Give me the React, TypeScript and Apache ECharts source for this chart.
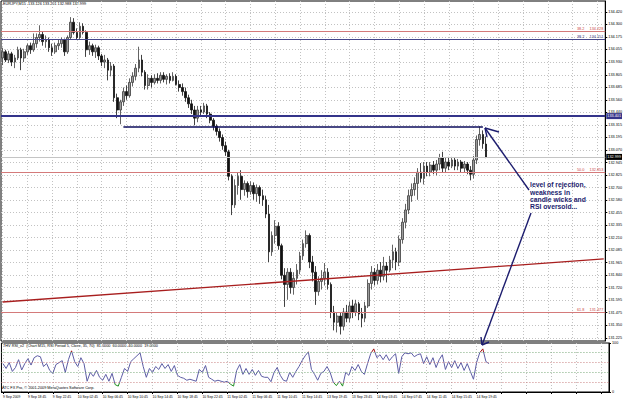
import React, { useEffect, useRef } from "react";
import * as echarts from "echarts";

// ---------- DATA ----------
const timeLabels = [
  "9 Sep 2009", "9 Sep 18:45", "9 Sep 22:45", "10 Sep 02:45", "10 Sep 06:45",
  "10 Sep 10:45", "10 Sep 14:45", "10 Sep 18:45", "10 Sep 22:45", "11 Sep 02:45",
  "11 Sep 06:45", "11 Sep 10:45", "11 Sep 14:45", "13 Sep 19:45", "13 Sep 23:45",
  "14 Sep 03:45", "14 Sep 07:45", "14 Sep 11:45", "14 Sep 15:45", "14 Sep 19:45",
];

const priceTicks = [
  134.42, 134.3, 134.175, 134.055, 133.93, 133.805, 133.685, 133.56, 133.44,
  133.315, 133.195, 133.07, 132.945, 132.825, 132.7, 132.58, 132.455, 132.335,
  132.21, 132.085, 131.965, 131.84, 131.72, 131.595, 131.475, 131.35, 131.225,
];

const openP = [
  133.97, 134.03, 133.95, 134.01, 133.93, 133.97, 134.05, 133.97, 134.03, 134.09,
  134.05, 134.11, 134.17, 134.2, 134.13, 134.15, 134.07, 134.03, 134.09, 134.11,
  134.15, 134.03, 134.17, 134.32, 134.22, 134.17, 134.28, 134.22, 134.05, 134.09,
  134.03, 134.07, 133.99, 133.93, 133.95, 133.85, 133.89, 133.58, 133.46, 133.54,
  133.64, 133.6, 133.73, 133.79, 133.87, 133.95, 133.83, 133.7, 133.77, 133.73,
  133.77, 133.75, 133.8, 133.76, 133.79, 133.75, 133.79, 133.71, 133.68, 133.64,
  133.58, 133.52, 133.46, 133.38, 133.46, 133.44, 133.5, 133.42, 133.36, 133.3,
  133.25, 133.19, 133.11, 133.05, 132.81, 132.53, 132.72, 132.81, 132.68, 132.74,
  132.66, 132.72, 132.64, 132.7, 132.62, 132.58, 132.44, 132.07, 132.23, 132.32,
  132.13, 131.84, 131.75, 131.87, 131.72, 131.81, 131.89, 132.03, 132.15, 132.23,
  131.97, 131.87, 131.68, 131.78, 131.81, 131.87, 131.75, 131.48, 131.38, 131.44,
  131.34, 131.48, 131.42, 131.54, 131.48, 131.56, 131.46, 131.42, 131.54, 131.76,
  131.87, 131.79, 131.89, 131.83, 131.93, 131.89, 131.99, 132.07, 131.97, 132.19,
  132.36, 132.48, 132.62, 132.68, 132.74, 132.85, 132.79, 132.91, 132.85, 132.92,
  132.87, 132.93, 132.99, 132.89, 132.95, 132.91, 132.97, 132.91, 132.95, 132.89,
  132.93, 132.87, 132.83, 132.97, 133.17, 133.22, 133.126,
];

const closeP = [
  134.03, 133.95, 134.01, 133.93, 133.97, 134.05, 133.97, 134.03, 134.09, 134.05,
  134.11, 134.17, 134.2, 134.13, 134.15, 134.07, 134.03, 134.09, 134.11, 134.15,
  134.03, 134.17, 134.32, 134.22, 134.17, 134.28, 134.22, 134.05, 134.09, 134.03,
  134.07, 133.99, 133.93, 133.95, 133.85, 133.89, 133.58, 133.46, 133.54, 133.64,
  133.6, 133.73, 133.79, 133.87, 133.95, 133.83, 133.7, 133.77, 133.73, 133.77,
  133.75, 133.8, 133.76, 133.79, 133.75, 133.79, 133.71, 133.68, 133.64, 133.58,
  133.52, 133.46, 133.38, 133.46, 133.44, 133.5, 133.42, 133.36, 133.3, 133.25,
  133.19, 133.11, 133.05, 132.81, 132.53, 132.72, 132.81, 132.68, 132.74, 132.66,
  132.72, 132.64, 132.7, 132.62, 132.58, 132.44, 132.07, 132.23, 132.32, 132.13,
  131.84, 131.75, 131.87, 131.72, 131.81, 131.89, 132.03, 132.15, 132.23, 131.97,
  131.87, 131.68, 131.78, 131.81, 131.87, 131.75, 131.48, 131.38, 131.44, 131.34,
  131.48, 131.42, 131.54, 131.48, 131.56, 131.46, 131.42, 131.54, 131.76, 131.87,
  131.79, 131.89, 131.83, 131.93, 131.89, 131.99, 132.07, 131.97, 132.19, 132.36,
  132.48, 132.62, 132.68, 132.74, 132.85, 132.79, 132.91, 132.85, 132.92, 132.87,
  132.93, 132.99, 132.89, 132.95, 132.91, 132.97, 132.91, 132.95, 132.89, 132.93,
  132.87, 132.83, 132.97, 133.17, 133.22, 133.13, 132.999,
];

const lowP = [
  133.9, 133.93, 133.92, 133.89, 133.87, 133.95, 133.85, 133.93, 134.0, 134.01,
  134.03, 134.07, 134.13, 134.09, 134.07, 134.03, 133.99, 134.01, 134.05, 134.07,
  133.99, 134.01, 134.15, 134.2, 134.15, 134.15, 134.2, 133.98, 134.0, 133.99,
  133.97, 133.95, 133.89, 133.87, 133.75, 133.79, 133.54, 133.38, 133.32, 133.5,
  133.56, 133.58, 133.69, 133.75, 133.83, 133.79, 133.66, 133.66, 133.68, 133.71,
  133.72, 133.72, 133.73, 133.71, 133.72, 133.74, 133.7, 133.64, 133.6, 133.54,
  133.48, 133.42, 133.31, 133.34, 133.4, 133.42, 133.38, 133.33, 133.26, 133.21,
  133.15, 133.07, 133.01, 132.77, 132.43, 132.5, 132.63, 132.58, 132.62, 132.6,
  132.63, 132.58, 132.56, 132.54, 132.52, 132.4, 131.97, 132.03, 132.15, 132.09,
  131.8, 131.53, 131.6, 131.66, 131.65, 131.75, 131.85, 131.99, 132.11, 131.91,
  131.78, 131.55, 131.64, 131.7, 131.74, 131.7, 131.42, 131.3, 131.28, 131.26,
  131.3, 131.38, 131.38, 131.42, 131.44, 131.4, 131.33, 131.38, 131.52, 131.7,
  131.74, 131.75, 131.77, 131.79, 131.77, 131.87, 131.91, 131.89, 131.93, 132.15,
  132.3, 132.44, 132.56, 132.62, 132.58, 132.75, 132.73, 132.81, 132.81, 132.83,
  132.82, 132.87, 132.85, 132.85, 132.87, 132.89, 132.87, 132.87, 132.85, 132.85,
  132.83, 132.77, 132.79, 132.93, 133.11, 133.08, 132.988,
];

const highP = [
  134.07, 134.05, 134.04, 134.03, 134.0, 134.08, 134.07, 134.06, 134.11, 134.12,
  134.21, 134.21, 134.29, 134.23, 134.19, 134.17, 134.11, 134.12, 134.15, 134.17,
  134.16, 134.19, 134.37, 134.36, 134.26, 134.32, 134.31, 134.24, 134.13, 134.11,
  134.1, 134.09, 134.01, 134.0, 133.97, 133.93, 133.91, 133.62, 133.56, 133.68,
  133.7, 133.77, 133.83, 133.91, 134.08, 134.0, 133.85, 133.81, 133.8, 133.81,
  133.82, 133.83, 133.83, 133.81, 133.82, 133.83, 133.81, 133.75, 133.72, 133.68,
  133.61, 133.56, 133.5, 133.5, 133.5, 133.53, 133.52, 133.44, 133.38, 133.32,
  133.28, 133.22, 133.15, 133.07, 132.83, 132.78, 132.85, 132.87, 132.77, 132.76,
  132.76, 132.75, 132.73, 132.72, 132.68, 132.62, 132.53, 132.27, 132.38, 132.36,
  132.15, 131.91, 131.91, 131.91, 131.87, 131.95, 132.07, 132.19, 132.28, 132.25,
  132.03, 131.93, 131.83, 131.89, 131.96, 131.91, 131.77, 131.54, 131.48, 131.48,
  131.52, 131.55, 131.58, 131.6, 131.6, 131.58, 131.52, 131.58, 131.8, 131.93,
  131.91, 131.95, 131.97, 132.02, 131.97, 132.03, 132.14, 132.11, 132.23, 132.4,
  132.54, 132.68, 132.74, 132.8, 132.89, 132.94, 132.95, 132.95, 132.95, 132.96,
  132.97, 133.03, 133.05, 132.99, 133.0, 133.0, 132.99, 132.98, 132.97, 132.96,
  132.95, 132.91, 133.01, 133.21, 133.3, 133.26, 133.201,
];

const rsiValues = [
  58, 48, 60, 42, 50, 66, 45, 58, 68, 55,
  70, 74, 72, 52, 58, 44, 38, 56, 60, 64,
  40, 66, 84, 62, 52, 70, 58, 22, 40, 32,
  44, 30, 24, 36, 22, 38, 15, 12, 30, 48,
  42, 62, 68, 74, 80, 52, 30, 48, 40, 52,
  46, 58, 48, 56, 42, 54, 34, 30, 28, 24,
  26, 24, 22, 46, 40, 54, 30, 26, 22, 24,
  22, 20, 22, 16, 12, 44, 56, 36, 48, 36,
  46, 34, 44, 32, 30, 30, 21, 40, 50, 34,
  24, 22, 40, 30, 42, 52, 64, 74, 82, 46,
  36, 24, 38, 42, 52, 40, 20, 13, 22, 12,
  40, 34, 52, 44, 56, 42, 36, 58, 78, 88,
  70, 76, 66, 76, 64, 72, 78, 38, 72, 80,
  78, 80, 72, 76, 78, 58, 72, 56, 70, 50,
  66, 76, 46, 62, 50, 64, 48, 60, 44, 58,
  42, 26, 60, 80, 88, 62, 58,
];

const fiboNames = ["38.2", "38.2", "50.0", "61.8"];
const fiboValues = [134.228, 134.151, 132.853, 131.477];
const supportLevel = 133.401;
const currentPrice = 132.999;
const rejectionLevel = 133.293;
const rejectionRange = [39, 155];
const trendStart = [0, 131.578];
const trendEnd = [194, 132.0];
const rsiLevels = [81, 60, 40, 19];
const headerText = "EURJPY,M15  133.126 133.201 132.988 132.999";
const rsiHeader =
  "THV RSI_v2  (Chart M15, RSI Period 5, Close, 35, 70)  81.0000  60.0000  40.0000  19.0000";
const copyright = "ATC FX Pro, \u00a9 2001-2009 MetaQuotes Software Corp.";
const noteLines = ["level of rejection,", "weakness in", "candle wicks and", "RSI oversold..."];

// ---------- CHART ----------
const SLOTS = 195;
const FONT = "'Liberation Sans', Arial, sans-serif";

export default function App() {
  const ref = useRef<HTMLDivElement>(null);

  useEffect(() => {
    if (!ref.current) return;
    const chart = echarts.init(ref.current, undefined, { renderer: "svg" });

    const cats = Array.from({ length: SLOTS }, (_, i) =>
      i % 8 === 0 && i / 8 < timeLabels.length ? timeLabels[i / 8] : ""
    );
    const candles = openP.map((o, i) => [o, closeP[i], lowP[i], highP[i]]);

    const gridLine = { show: true, lineStyle: { color: "#c2c2c2", type: [1, 2], width: 1 } };
    const fiboColors = ["#d47a7a", "#45458a", "#d47a7a", "#d47a7a"];
    const fiboLabelColors = ["#c44", "#33337a", "#c44", "#c44"];

    const markData: any[] = fiboValues.map((v, k) => ({
      yAxis: v,
      lineStyle: { color: fiboColors[k], width: 1, type: "solid" },
      label: {
        show: true,
        position: "insideEndTop",
        formatter: `${fiboNames[k]}     ${v.toFixed(3)}`,
        fontSize: 3.8,
        color: fiboLabelColors[k],
        distance: [2, 0.5],
      },
    }));
    markData.push({
      yAxis: supportLevel,
      lineStyle: { color: "#34348a", width: 2, type: "solid" },
      label: {
        show: true,
        position: "end",
        formatter: supportLevel.toFixed(3),
        fontSize: 3.8,
        color: "#fff",
        backgroundColor: "#34348a",
        padding: [1, 1],
        distance: 1,
      },
    });
    markData.push({
      yAxis: currentPrice,
      lineStyle: { color: "#c4c4c4", width: 1, type: "solid" },
      label: {
        show: true,
        position: "end",
        formatter: currentPrice.toFixed(3),
        fontSize: 3.8,
        color: "#fff",
        backgroundColor: "#000",
        padding: [1, 1],
        distance: 1,
      },
    });
    markData.push([
      { coord: [rejectionRange[0], rejectionLevel], lineStyle: { color: "#0c0c5c", width: 1.6, type: "solid" }, label: { show: false } },
      { coord: [rejectionRange[1], rejectionLevel] },
    ]);
    markData.push([
      { coord: trendStart, lineStyle: { color: "#a81e1e", width: 1.3, type: "solid" }, label: { show: false } },
      { coord: trendEnd },
    ]);

    const navy = "#1c1c6e";
    const line = (x1: number, y1: number, x2: number, y2: number, w = 1.4) => ({
      type: "line",
      shape: { x1, y1, x2, y2 },
      style: { stroke: navy, lineWidth: w },
      silent: true,
      z: 100,
    });

    const option: any = {
      animation: false,
      backgroundColor: "#ffffff",
      textStyle: { fontFamily: FONT },
      grid: [
        { left: 1, right: 16, top: 1, height: 340, show: true, borderColor: "#000", borderWidth: 1, backgroundColor: "transparent" },
        { left: 1, right: 16, top: 343, height: 49, show: true, borderColor: "#000", borderWidth: 1, backgroundColor: "transparent" },
      ],
      xAxis: [
        {
          type: "category",
          gridIndex: 0,
          data: cats,
          boundaryGap: true,
          axisLine: { show: false },
          axisTick: { show: false },
          axisLabel: { show: false },
          splitLine: { ...gridLine, interval: 7, alignWithLabel: true },
        },
        {
          type: "category",
          gridIndex: 1,
          data: cats,
          boundaryGap: true,
          axisLine: { show: true, lineStyle: { color: "#000", width: 1 } },
          axisTick: { show: true, interval: 7, length: 2, alignWithLabel: true, lineStyle: { color: "#000" } },
          axisLabel: { show: true, interval: 7, align: "left", fontSize: 3.4, color: "#000", margin: 3 },
          splitLine: { ...gridLine, interval: 7, alignWithLabel: true },
        },
      ],
      yAxis: [
        {
          type: "value",
          gridIndex: 0,
          position: "right",
          min: 131.196,
          max: 134.528,
          axisLine: { show: true, lineStyle: { color: "#000", width: 1 } },
          axisTick: { show: true, length: 2, customValues: priceTicks, lineStyle: { color: "#000" } },
          axisLabel: {
            show: true,
            customValues: priceTicks,
            formatter: (v: number) => v.toFixed(3),
            fontSize: 3.8,
            color: "#000",
            margin: 3,
          },
          splitLine: gridLine,
        },
        {
          type: "value",
          gridIndex: 1,
          position: "right",
          min: 0,
          max: 100,
          axisLine: { show: true, lineStyle: { color: "#000", width: 1 } },
          axisTick: { show: true, length: 2, customValues: [0, 100], lineStyle: { color: "#000" } },
          axisLabel: { show: true, customValues: [0, 100], fontSize: 3.8, color: "#000", margin: 3 },
          splitLine: { show: false },
        },
      ],
      visualMap: {
        type: "piecewise",
        show: false,
        seriesIndex: 1,
        dimension: 1,
        pieces: [
          { gt: rsiLevels[0], color: "#a01414" },
          { lt: rsiLevels[3], color: "#1f8f1f" },
          { gte: rsiLevels[3], lte: rsiLevels[0], color: "#5c5ca4" },
        ],
      },
      series: [
        {
          type: "candlestick",
          xAxisIndex: 0,
          yAxisIndex: 0,
          data: candles,
          barWidth: 2.2,
          itemStyle: {
            color: "#9c9c9c",
            color0: "#111111",
            borderColor: "#3c3c3c",
            borderColor0: "#111111",
            borderWidth: 0.8,
          },
          markLine: {
            symbol: ["none", "none"],
            silent: true,
            animation: false,
            data: markData,
          },
        },
        {
          type: "line",
          xAxisIndex: 1,
          yAxisIndex: 1,
          data: rsiValues,
          symbol: "none",
          lineStyle: { width: 1 },
          markLine: {
            symbol: ["none", "none"],
            silent: true,
            animation: false,
            label: { show: false },
            data: rsiLevels.map((v, k) => ({
              yAxis: v,
              lineStyle: { color: k % 2 === 0 ? "#7aa97a" : "#c98080", width: 1, type: [1, 2] },
            })),
          },
        },
      ],
      graphic: [
        { type: "text", left: 3, top: 2, silent: true, style: { text: headerText, fontSize: 3.8, fill: "#000", fontFamily: FONT } },
        { type: "text", left: 3, top: 344, silent: true, style: { text: rsiHeader, fontSize: 3.8, fill: "#000", fontFamily: FONT } },
        { type: "text", left: 2, top: 386, silent: true, style: { text: copyright, fontSize: 3.8, fill: "#000", fontFamily: FONT } },
        {
          type: "text",
          left: 530,
          top: 181,
          silent: true,
          z: 100,
          style: {
            text: noteLines.join("\n"),
            fontSize: 6.8,
            lineHeight: 7.4,
            fontWeight: "bold",
            fill: navy,
            fontFamily: FONT,
          },
        },
        line(485, 128, 529, 190),
        line(485, 128, 499, 132),
        line(485, 128, 487, 137),
        line(531, 213, 482, 345),
        line(482, 345, 481, 337),
        line(482, 345, 489, 342),
      ],
    };

    chart.setOption(option);
    return () => chart.dispose();
  }, []);

  return (
    <div
      ref={ref}
      style={{ position: "fixed", left: 0, top: 0, width: 625, height: 400, background: "#fff" }}
    />
  );
}
